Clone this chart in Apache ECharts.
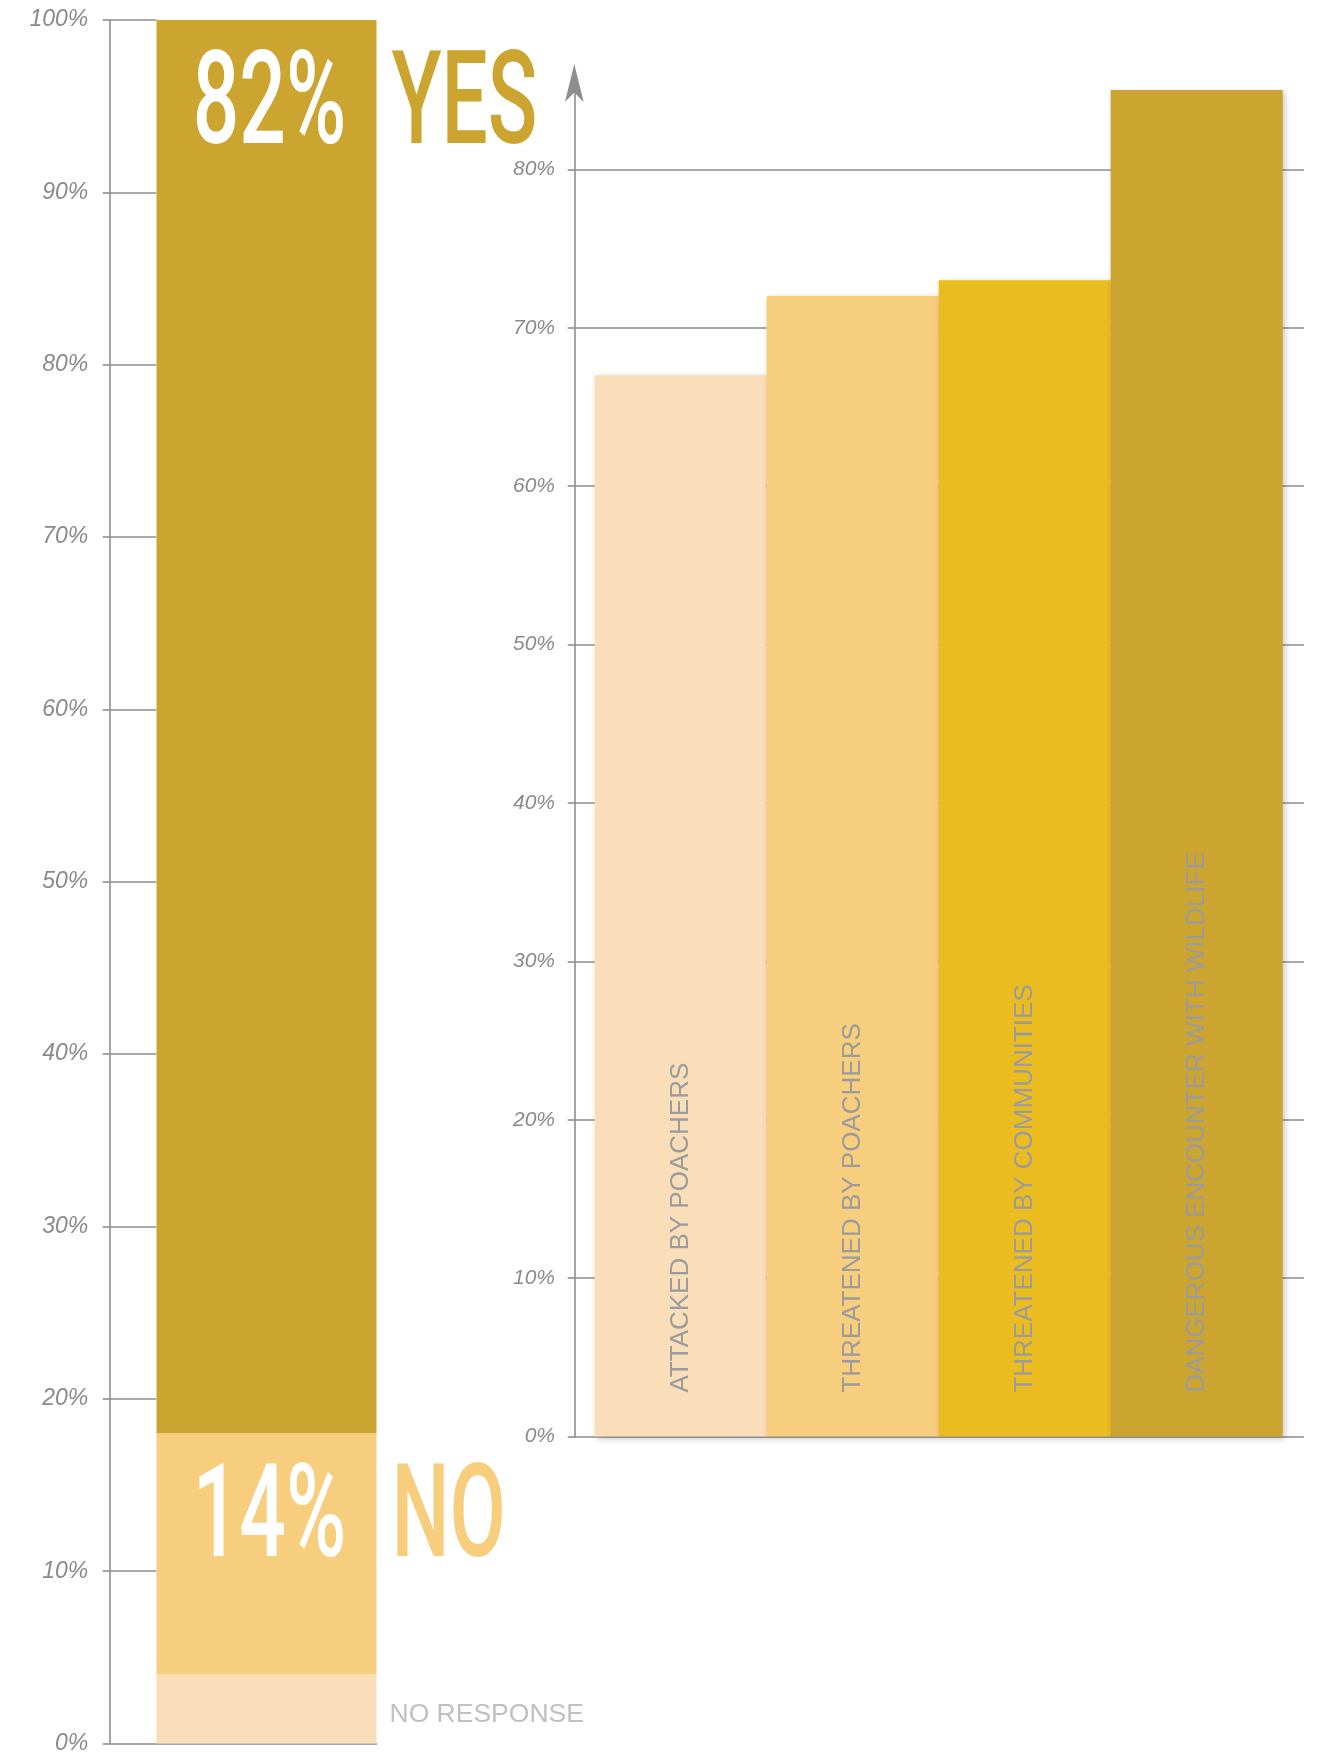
<!DOCTYPE html>
<html>
<head>
<meta charset="utf-8">
<script src="https://cdn.jsdelivr.net/npm/echarts@6/dist/echarts.min.js"></script>
<style>
  html, body { margin: 0; padding: 0; background: #ffffff; }
  #chart { width: 1319px; height: 1755px; }
</style>
</head>
<body>
<div id="chart"></div>
<script>
// Left column: answers to the survey question, percent of respondents (stacked bottom to top)
const answerNames = ['NO RESPONSE', 'NO', 'YES'];
const answerValues = [4, 14, 82];

// Right columns: kinds of incident, percent of respondents
const incidentNames = [
  'ATTACKED BY POACHERS',
  'THREATENED BY POACHERS',
  'THREATENED BY COMMUNITIES',
  'DANGEROUS ENCOUNTER WITH WILDLIFE'
];
const incidentValues = [67, 72, 73, 85];

// Tick values of the two value axes
const leftTicks = [0, 10, 20, 30, 40, 50, 60, 70, 80, 90, 100];
const rightTicks = [0, 10, 20, 30, 40, 50, 60, 70, 80];

// Palette
const answerColors = ['#F9DEB9', '#F6CE7E', '#CBA52F'];
const incidentColors = ['#F9DEB9', '#F6CE7E', '#EBBC1F', '#CBA52F'];
const axisGray = '#8e8e8e';
const labelGray = '#8a8a8a';
const sansFont = '"Liberation Sans", Arial, sans-serif';

const pct = v => v + '%';
const lineStyle = { color: axisGray, width: 1.6 };

const chart = echarts.init(document.getElementById('chart'), null, { renderer: 'canvas' });

const option = {
  animation: false,
  backgroundColor: '#ffffff',
  grid: [
    { left: 156.5, top: 20, width: 220, height: 1726.7 },       // answers column
    { left: 594.6, top: 90.1, width: 688.1, height: 1346.5 },   // incident columns
    { left: 574.3, top: 90.1, width: 729.7, height: 1346.5 }    // grid lines behind incidents
  ],
  xAxis: [
    {
      gridIndex: 0, type: 'category', data: ['answers'],
      axisLine: { lineStyle }, axisTick: { show: false }, axisLabel: { show: false }
    },
    {
      gridIndex: 1, type: 'category', data: incidentNames,
      axisLine: { show: false }, axisTick: { show: false }, axisLabel: { show: false }
    },
    { gridIndex: 2, type: 'value', show: false }
  ],
  yAxis: [
    {
      gridIndex: 0, type: 'value', position: 'left', min: 0, max: 100, interval: 10, offset: 47.2,
      axisLine: { show: true, lineStyle },
      axisTick: { show: true, inside: true, length: 47.2, lineStyle, customValues: leftTicks },
      axisLabel: {
        customValues: leftTicks, formatter: pct, margin: 21,
        fontStyle: 'italic', fontSize: 23, color: labelGray, fontFamily: sansFont
      },
      splitLine: { show: false }
    },
    {
      gridIndex: 0, type: 'value', position: 'left', min: 0, max: 100, interval: 10, offset: 47.2,
      axisLine: { show: false },
      axisTick: { show: true, length: 6.6, lineStyle, customValues: leftTicks },
      axisLabel: { show: false },
      splitLine: { show: false }
    },
    {
      gridIndex: 1, type: 'value', position: 'left', min: 0, max: 85, interval: 10, offset: 20.3,
      axisLine: {
        show: true, lineStyle,
        symbol: ['none', 'arrow'], symbolSize: [14, 38], symbolOffset: [0, 26]
      },
      axisTick: { show: true, length: 6.6, lineStyle, customValues: rightTicks },
      axisLabel: {
        customValues: rightTicks, formatter: pct, margin: 19.3,
        fontStyle: 'italic', fontSize: 21, color: labelGray, fontFamily: sansFont
      },
      splitLine: { show: false }
    },
    {
      gridIndex: 2, type: 'value', position: 'left', min: 0, max: 85, interval: 10,
      axisLine: { show: false }, axisTick: { show: false }, axisLabel: { show: false },
      splitLine: { show: true, showMaxLine: false, lineStyle }
    }
  ],
  series: [
    ...answerNames.map((name, i) => ({
      type: 'bar',
      name,
      stack: 'answers',
      xAxisIndex: 0,
      yAxisIndex: 0,
      barWidth: '100%',
      data: [answerValues[i]],
      itemStyle: { color: answerColors[i] },
      label: i === 0 ? {
        show: true, position: 'right', distance: 13, offset: [0, 6], formatter: '{a}',
        fontSize: 26.5, color: '#c0c0c0', fontFamily: sansFont
      } : { show: false }
    })),
    {
      type: 'bar',
      name: 'incidents',
      xAxisIndex: 1,
      yAxisIndex: 2,
      barWidth: '100%',
      data: incidentValues.map((v, i) => ({ value: v, itemStyle: { color: incidentColors[i] } })),
      itemStyle: {
        shadowBlur: 6, shadowOffsetX: 2, shadowOffsetY: 2, shadowColor: 'rgba(0,0,0,0.22)'
      },
      label: {
        show: true, position: 'insideBottom', distance: 44, rotate: 90,
        align: 'left', verticalAlign: 'middle', formatter: '{b}',
        fontSize: 26, color: '#9b9b9b', fontFamily: sansFont
      }
    }
  ]
};

chart.setOption(option);

// Big headline figures for the YES and NO segments: value inside, word beside the column
function segmentRect(seriesIndex) {
  const r = chart.getModel().getSeriesByIndex(seriesIndex).getData().getItemLayout(0);
  return { left: r.x, right: r.x + r.width, top: Math.min(r.y, r.y + r.height) };
}

function headline(text, x, y, color, align) {
  return {
    type: 'text', z: 100, x, y, scaleX: 0.63, originX: 0, originY: 0,
    style: {
      text, fill: color,
      font: '500 130px Roboto, "Liberation Sans", sans-serif',
      align, verticalAlign: 'middle', textAlign: align, textVerticalAlign: 'middle'
    }
  };
}

const headlineElements = [];
[2, 1].forEach(idx => {
  const r = segmentRect(idx);
  const capY = r.top + 90;
  headlineElements.push(headline(pct(answerValues[idx]), (r.left + r.right) / 2 + 3, capY, '#ffffff', 'center'));
  headlineElements.push(headline(answerNames[idx], r.right + 15, capY, answerColors[idx], 'left'));
});

chart.setOption({ graphic: { elements: headlineElements } });
</script>
</body>
</html>
